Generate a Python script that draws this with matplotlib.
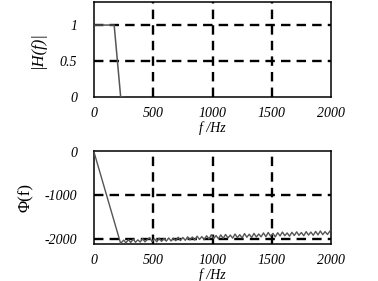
import numpy as np
import matplotlib
matplotlib.use("Agg")
import matplotlib.pyplot as plt

# ---- data ----
mag_f = [0, 170, 225, 250]
mag_h = [1, 1, 0, 0]

phase_f_start = [0, 225]
phase_v_start = [0, -2110]
phase_f_noise = list(range(230, 2001, 20))
phase_v_noise = [
    -2090, -2030, -2095, -2020, -2085, -2010, -2080, -2025, -2075, -1995,
    -2070, -2015, -1975, -2065, -2000, -2070, -1985, -2060, -1995, -2055,
    -1980, -2050, -1985, -2045, -1965, -2040, -1970, -2035, -1955, -2025,
    -1960, -2030, -1940, -2015, -1950, -2020, -1930, -2005, -1905, -1995,
    -1925, -2000, -1910, -1990, -1900, -1980, -1915, -1985, -1890, -1975,
    -1905, -1980, -1880, -1965, -1895, -1970, -1875, -1960, -1890, -1955,
    -1865, -1950, -1855, -1940, -1875, -1955, -1860, -1935, -1845, -1930,
    -1865, -1940, -1850, -1925, -1840, -1920, -1855, -1930, -1835, -1915,
    -1845, -1920, -1830, -1910, -1820, -1905, -1835, -1900, -1825,
]
phase_f = phase_f_start + phase_f_noise
phase_v = phase_v_start + phase_v_noise

x_ticks = [0, 500, 1000, 1500, 2000]
mag_yticks = [0, 0.5, 1]
mag_yticklabels = ["0", "0.5", "1"]
ph_yticks = [0, -1000, -2000]
ph_yticklabels = ["0", "-1000", "-2000"]

serif = ["Liberation Serif", "DejaVu Serif"]
fs = 10

fig = plt.figure(figsize=(3.78, 2.81), dpi=100)
ax1 = fig.add_axes([0.2487, 0.6548, 0.627, 0.338])
ax2 = fig.add_axes([0.2487, 0.1317, 0.627, 0.331])

line_color = "#555555"
grid_kw = dict(color="black", lw=1.7, linestyle=(0, (4, 2.6)))

def style(ax, yticks, ylabels, ylim):
    ax.set_xlim(0, 2000)
    ax.set_ylim(*ylim)
    ax.set_xticks(x_ticks)
    ax.set_xticklabels([str(t) for t in x_ticks], family=serif, style="italic", fontsize=fs)
    ax.set_yticks(yticks)
    ax.set_yticklabels(ylabels, family=serif, style="italic", fontsize=fs)
    ax.tick_params(length=0, pad=7)
    ax.tick_params(axis="y", pad=12)
    for s in ax.spines.values():
        s.set_linewidth(1.1)
        s.set_color("black")
    for t in x_ticks[1:-1]:
        ax.axvline(t, **grid_kw, zorder=1)

style(ax1, mag_yticks, mag_yticklabels, (0, 1.32))
for y in [0.5, 1]:
    ax1.axhline(y, **grid_kw, zorder=1)
ax1.plot(mag_f, mag_h, color=line_color, lw=1.1, zorder=3)
ax1.set_xlabel("f /Hz", family=serif, style="italic", fontsize=fs, labelpad=1)
ax1.set_ylabel("|H(f)|", family=serif, style="italic", fontsize=12, labelpad=10)

style(ax2, ph_yticks, ph_yticklabels, (-2120, 25))
for y in [-1000, -2000]:
    ax2.axhline(y, **grid_kw, zorder=1)
ax2.plot(phase_f, phase_v, color=line_color, lw=1.0, zorder=3)
ax2.set_xlabel("f /Hz", family=serif, style="italic", fontsize=fs, labelpad=1)
ax2.set_ylabel("Φ(f)", family=serif, fontsize=12, labelpad=8)

fig.savefig("out.png", dpi=100)
